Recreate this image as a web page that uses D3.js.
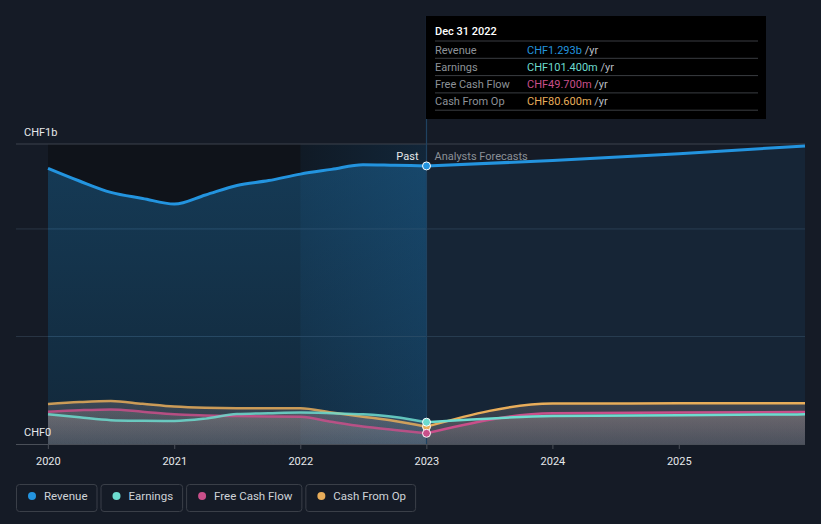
<!DOCTYPE html>
<html>
<head>
<meta charset="utf-8">
<script src="https://cdn.jsdelivr.net/npm/d3@7"></script>
<style>
  body { margin: 0; background: #151b26; font-family: Roboto, "Noto Sans", sans-serif; }
  svg { display: block; }
</style>
</head>
<body>
<svg id="chart" width="821" height="524"></svg>
<script>
// Past (quarterly) values, in CHF billions
const pastDates = ['2019-12-31', '2020-03-31', '2020-06-30', '2020-09-30', '2020-12-31',
  '2021-03-31', '2021-06-30', '2021-09-30', '2021-12-31', '2022-03-31',
  '2022-06-30', '2022-09-30', '2022-12-31'];
const pastRevenue = [1.282, 1.223, 1.170, 1.142, 1.116, 1.158, 1.202, 1.225, 1.255, 1.277, 1.299, 1.296, 1.293];
const pastEarnings = [0.138, 0.124, 0.111, 0.108, 0.107, 0.118, 0.139, 0.143, 0.146, 0.143, 0.138, 0.126, 0.1014];
const pastFcf = [0.150, 0.157, 0.161, 0.150, 0.138, 0.133, 0.130, 0.128, 0.127, 0.103, 0.081, 0.065, 0.0497];
const pastCfo = [0.186, 0.195, 0.200, 0.187, 0.174, 0.168, 0.166, 0.166, 0.166, 0.146, 0.127, 0.107, 0.0806];

// Analyst forecasts (annual)
const fcDates = ['2022-12-31', '2023-12-31', '2024-12-31', '2025-12-31'];
const fcRevenue = [1.293, 1.318, 1.350, 1.386];
const fcEarnings = [0.1014, 0.130, 0.134, 0.138];
const fcFcf = [0.0497, 0.143, 0.146, 0.149];
const fcCfo = [0.0806, 0.188, 0.189, 0.190];

const xTicks = ['2020', '2021', '2022', '2023', '2024', '2025'];
const seriesNames = ['Revenue', 'Earnings', 'Free Cash Flow', 'Cash From Op'];
const seriesColors = ['#2394df', '#6ddccf', '#c94f8a', '#e8ad5a'];
const tooltipValues = ['CHF1.293b', 'CHF101.400m', 'CHF49.700m', 'CHF80.600m'];

const parse = d3.timeParse('%Y-%m-%d');
const svg = d3.select('#chart');

const x = d3.scaleTime()
  .domain([parse('2019-12-31'), parse('2025-12-31')])
  .range([48, 805]);
const y = d3.scaleLinear().domain([0, 1.395]).range([444, 144]);

const nowX = x(parse('2022-12-31'));
const yearAgoX = x(parse('2021-12-31'));

const defs = svg.append('defs');

// Background panels
svg.append('rect').attr('x', 48).attr('y', 144).attr('width', nowX - 48).attr('height', 300)
  .attr('fill', '#0f131a');

const hl = defs.append('linearGradient').attr('id', 'hl').attr('x1', 0).attr('x2', 1).attr('y1', 0).attr('y2', 0);
hl.append('stop').attr('offset', 0).attr('stop-color', '#1c6aa8').attr('stop-opacity', 0.08);
hl.append('stop').attr('offset', 1).attr('stop-color', '#1c6aa8').attr('stop-opacity', 0.22);
svg.append('rect').attr('x', yearAgoX).attr('y', 144).attr('width', nowX - yearAgoX).attr('height', 300)
  .attr('fill', 'url(#hl)');

// Grid lines
[0.5, 1.0].forEach(function (v) {
  svg.append('line').attr('x1', 16).attr('x2', 805).attr('y1', y(v)).attr('y2', y(v))
    .attr('stroke', '#2a3644').attr('stroke-width', 1);
});
svg.append('line').attr('x1', 16).attr('x2', 805).attr('y1', 144).attr('y2', 144)
  .attr('stroke', '#3c434d').attr('stroke-width', 1);

const curve = d3.curveMonotoneX;
function build(dates, values) {
  return dates.map(function (d, i) { return { date: parse(d), value: values[i] }; });
}
const past = [pastRevenue, pastEarnings, pastFcf, pastCfo].map(function (v) { return build(pastDates, v); });
const fc = [fcRevenue, fcEarnings, fcFcf, fcCfo].map(function (v) { return build(fcDates, v); });

const area = d3.area().curve(curve).x(function (d) { return x(d.date); })
  .y0(y(0)).y1(function (d) { return y(d.value); });
const line = d3.line().curve(curve).x(function (d) { return x(d.date); })
  .y(function (d) { return y(d.value); });

// Revenue area
const revPast = defs.append('linearGradient').attr('id', 'revPast').attr('x1', 0).attr('x2', 0).attr('y1', 0).attr('y2', 1);
revPast.append('stop').attr('offset', 0).attr('stop-color', '#2394df').attr('stop-opacity', 0.3);
revPast.append('stop').attr('offset', 1).attr('stop-color', '#2394df').attr('stop-opacity', 0.16);
svg.append('path').datum(past[0]).attr('d', area).attr('fill', 'url(#revPast)');
svg.append('path').datum(fc[0]).attr('d', area).attr('fill', '#2394df').attr('fill-opacity', 0.09);

// Lower series areas
const low = defs.append('linearGradient').attr('id', 'low').attr('gradientUnits', 'userSpaceOnUse')
  .attr('x1', 0).attr('x2', 0).attr('y1', 400).attr('y2', 444);
low.append('stop').attr('offset', 0).attr('stop-color', '#d0b0a8').attr('stop-opacity', 0.22);
low.append('stop').attr('offset', 1).attr('stop-color', '#c0b0b0').attr('stop-opacity', 0.12);
[3, 2, 1].forEach(function (i) {
  svg.append('path').datum(past[i]).attr('d', area).attr('fill', 'url(#low)');
  svg.append('path').datum(fc[i]).attr('d', area).attr('fill', 'url(#low)');
});

// Lines
[3, 2, 1, 0].forEach(function (i) {
  const w = i === 0 ? 3 : 2.5;
  svg.append('path').datum(past[i]).attr('d', line).attr('fill', 'none')
    .attr('stroke', seriesColors[i]).attr('stroke-width', w).attr('stroke-opacity', i === 0 ? 1 : 0.85);
  svg.append('path').datum(fc[i]).attr('d', line).attr('fill', 'none')
    .attr('stroke', seriesColors[i]).attr('stroke-width', w);
});

// Baseline and ticks
svg.append('line').attr('x1', 16).attr('x2', 805).attr('y1', 444.5).attr('y2', 444.5)
  .attr('stroke', '#4a4f58').attr('stroke-width', 1);
xTicks.forEach(function (t) {
  const tx = x(parse(t + '-01-01'));
  svg.append('line').attr('x1', tx).attr('x2', tx).attr('y1', 444).attr('y2', 449)
    .attr('stroke', '#4a4f58');
  svg.append('text').attr('x', tx).attr('y', 465).attr('text-anchor', 'middle')
    .attr('fill', '#e6e8ea').attr('font-size', 11).text(t);
});

// Now line
svg.append('line').attr('x1', nowX).attr('x2', nowX).attr('y1', 16).attr('y2', 444)
  .attr('stroke', '#1f4260').attr('stroke-width', 1.2);

// Dots at the current date
[3, 2, 1, 0].forEach(function (i) {
  const d = past[i][past[i].length - 1];
  svg.append('circle').attr('cx', x(d.date)).attr('cy', y(d.value)).attr('r', 4)
    .attr('fill', seriesColors[i]).attr('stroke', '#fff').attr('stroke-width', 1);
});

// Y labels
svg.append('text').attr('x', 24).attr('y', 136).attr('fill', '#e6e8ea').attr('font-size', 11).text('CHF1b');
svg.append('text').attr('x', 24).attr('y', 436).attr('fill', '#e6e8ea').attr('font-size', 11).text('CHF0');

svg.append('text').attr('x', nowX - 8).attr('y', 160).attr('text-anchor', 'end')
  .attr('fill', '#e6e8ea').attr('font-size', 11).text('Past');
svg.append('text').attr('x', nowX + 8).attr('y', 160)
  .attr('fill', '#8b9097').attr('font-size', 11).text('Analysts Forecasts');

// Tooltip
const tip = svg.append('g').attr('transform', 'translate(426,16)');
tip.append('rect').attr('width', 340).attr('height', 103).attr('fill', '#000');
tip.append('text').attr('x', 9).attr('y', 19).attr('fill', '#fff').attr('font-size', 11)
  .attr('font-weight', 500).text('Dec 31 2022');
seriesNames.forEach(function (name, i) {
  const ry = 25 + i * 17.3;
  tip.append('line').attr('x1', 9).attr('x2', 332).attr('y1', ry).attr('y2', ry)
    .attr('stroke', '#3a3d42');
  tip.append('text').attr('x', 9).attr('y', ry + 12.5).attr('fill', '#8d9298').attr('font-size', 11).text(name);
  const t = tip.append('text').attr('x', 101).attr('y', ry + 12.5).attr('font-size', 11);
  t.append('tspan').attr('fill', seriesColors[i]).text(tooltipValues[i]);
  t.append('tspan').attr('fill', '#b8bcc2').text(' /yr');
});
tip.append('line').attr('x1', 9).attr('x2', 332).attr('y1', 25 + 4 * 17.3).attr('y2', 25 + 4 * 17.3)
  .attr('stroke', '#3a3d42');

// Legend
const legend = svg.append('g').attr('transform', 'translate(16,484)');
let lx = 0;
seriesNames.forEach(function (name, i) {
  const g = legend.append('g').attr('transform', 'translate(' + lx + ',0)');
  const txt = g.append('text').attr('x', 28).attr('y', 16).attr('fill', '#cfd3d8')
    .attr('font-size', 11.5).text(name);
  const w = txt.node().getComputedTextLength() + 37;
  g.insert('rect', 'text').attr('x', 0.5).attr('y', 0.5).attr('width', w).attr('height', 27)
    .attr('rx', 3).attr('fill', 'none').attr('stroke', '#3a3f48');
  g.append('circle').attr('cx', 16).attr('cy', 12).attr('r', 4).attr('fill', seriesColors[i]);
  lx += w + 4;
});
</script>
</body>
</html>
